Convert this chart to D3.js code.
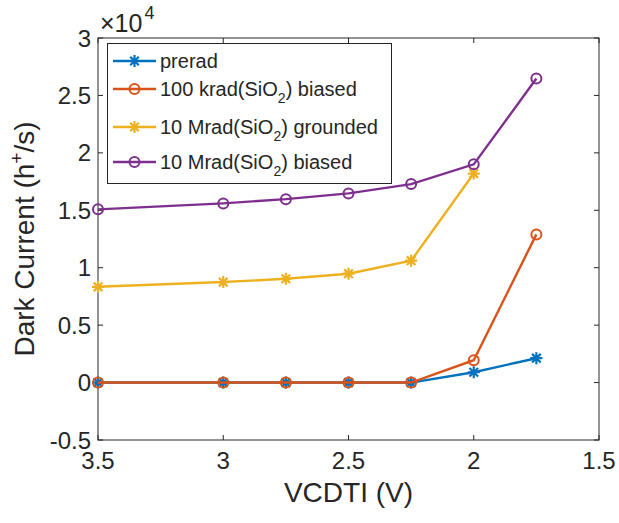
<!DOCTYPE html>
<html>
<head>
<meta charset="utf-8">
<script src="https://cdn.jsdelivr.net/npm/d3@7"></script>
<style>
  body { margin: 0; background: #fff; }
  svg text { font-family: "Liberation Sans", Arial, Helvetica, sans-serif; fill: #262626; }
</style>
</head>
<body>
<div id="chart"></div>
<script>
const voltages = [3.5, 3, 2.75, 2.5, 2.25, 2, 1.75]
const prerad = [0, 0, 0, 0, 0, 900, 2120]
const krad100Biased = [0, 0, 0, 0, 0, 1950, 12900]
const mrad10Grounded = [8340, 8750, 9040, 9480, 10610, 18200]
const mrad10Biased = [15080, 15600, 15970, 16470, 17280, 19000, 26470]

const xTicks = [3.5, 3, 2.5, 2, 1.5]
const yTicks = [-0.5, 0, 0.5, 1, 1.5, 2, 2.5, 3]

const series = [
  { name: ["prerad"], values: prerad, color: "#0072BD", marker: "star" },
  { name: ["100 krad(SiO", "2", ") biased"], values: krad100Biased, color: "#D95319", marker: "circle" },
  { name: ["10 Mrad(SiO", "2", ") grounded"], values: mrad10Grounded, color: "#EDB120", marker: "star" },
  { name: ["10 Mrad(SiO", "2", ") biased"], values: mrad10Biased, color: "#7E2F8E", marker: "circle" }
]

const width = 619, height = 523
const plotLeft = 98, plotRight = 599, plotTop = 38, plotBottom = 440
const axisColor = "#262626"

const x = d3.scaleLinear().domain([3.5, 1.5]).range([plotLeft, plotRight])
const y = d3.scaleLinear().domain([-0.5e4, 3e4]).range([plotBottom, plotTop])

const svg = d3.select("#chart").append("svg")
  .attr("width", width)
  .attr("height", height)

function starPath(r) {
  const d = r * 0.72
  return `M${-r},0L${r},0M0,${-r}L0,${r}M${-d},${-d}L${d},${d}M${-d},${d}L${d},${-d}`
}

function drawMarker(g, type, color) {
  if (type === "circle") {
    g.append("circle").attr("r", 5).attr("fill", "none")
      .attr("stroke", color).attr("stroke-width", 2)
  } else {
    g.append("path").attr("d", starPath(6)).attr("fill", "none")
      .attr("stroke", color).attr("stroke-width", 2.2)
  }
}

// axes box with ticks on all four sides
svg.append("rect")
  .attr("x", plotLeft).attr("y", plotTop)
  .attr("width", plotRight - plotLeft).attr("height", plotBottom - plotTop)
  .attr("fill", "none").attr("stroke", axisColor).attr("stroke-width", 1)

const tickLen = 5
xTicks.forEach(t => {
  svg.append("line").attr("x1", x(t)).attr("x2", x(t)).attr("y1", plotBottom).attr("y2", plotBottom - tickLen)
    .attr("stroke", axisColor)
  svg.append("line").attr("x1", x(t)).attr("x2", x(t)).attr("y1", plotTop).attr("y2", plotTop + tickLen)
    .attr("stroke", axisColor)
  svg.append("text").attr("x", x(t)).attr("y", 469)
    .attr("text-anchor", "middle").attr("font-size", 24)
    .text(String(t))
})

yTicks.forEach(t => {
  const yy = y(t * 1e4)
  svg.append("line").attr("x1", plotLeft).attr("x2", plotLeft + tickLen).attr("y1", yy).attr("y2", yy)
    .attr("stroke", axisColor)
  svg.append("line").attr("x1", plotRight).attr("x2", plotRight - tickLen).attr("y1", yy).attr("y2", yy)
    .attr("stroke", axisColor)
  svg.append("text").attr("x", 91).attr("y", yy + 8.5)
    .attr("text-anchor", "end").attr("font-size", 24)
    .text(t < 0 ? "-" + Math.abs(t) : String(t))
})

// exponent label
const expo = svg.append("text").attr("x", 100).attr("y", 32).attr("font-size", 25)
expo.append("tspan").text("\u00d710")
expo.append("tspan").attr("dx", 2).attr("dy", -13).attr("font-size", 18).text("4")

// axis titles
svg.append("text").attr("x", (plotLeft + plotRight) / 2).attr("y", 502)
  .attr("text-anchor", "middle").attr("font-size", 28)
  .text("VCDTI (V)")

const yl = svg.append("text")
  .attr("transform", `translate(34, ${(plotTop + plotBottom) / 2}) rotate(-90)`)
  .attr("text-anchor", "middle").attr("font-size", 28)
yl.append("tspan").text("Dark Current (h")
yl.append("tspan").attr("dy", -11).attr("font-size", 19).text("+")
yl.append("tspan").attr("dy", 11).text("/s)")

// series
const line = d3.line().x(d => x(d[0])).y(d => y(d[1]))

series.forEach(s => {
  const pts = s.values.map((v, i) => [voltages[i], v])
  svg.append("path").datum(pts)
    .attr("d", line)
    .attr("fill", "none")
    .attr("stroke", s.color)
    .attr("stroke-width", 2.4)
  pts.forEach(p => {
    const g = svg.append("g").attr("transform", `translate(${x(p[0])},${y(p[1])})`)
    drawMarker(g, s.marker, s.color)
  })
})

// legend
const legendRows = [61, 89, 127, 162]
const legend = svg.append("g")
legend.append("rect")
  .attr("x", 107.5).attr("y", 43.5)
  .attr("width", 284).attr("height", 140)
  .attr("fill", "#fff").attr("stroke", axisColor).attr("stroke-width", 1)

series.forEach((s, i) => {
  const ly = legendRows[i]
  legend.append("line").attr("x1", 113).attr("x2", 156).attr("y1", ly).attr("y2", ly)
    .attr("stroke", s.color).attr("stroke-width", 2.4)
  const g = legend.append("g").attr("transform", `translate(134.5,${ly})`)
  drawMarker(g, s.marker, s.color)
  const t = legend.append("text").attr("x", 160).attr("y", ly + 7).attr("font-size", 20)
  t.append("tspan").text(s.name[0])
  if (s.name.length > 1) {
    t.append("tspan").attr("dy", 7).attr("font-size", 14).text(s.name[1])
    t.append("tspan").attr("dy", -7).text(s.name[2])
  }
})
</script>
</body>
</html>
